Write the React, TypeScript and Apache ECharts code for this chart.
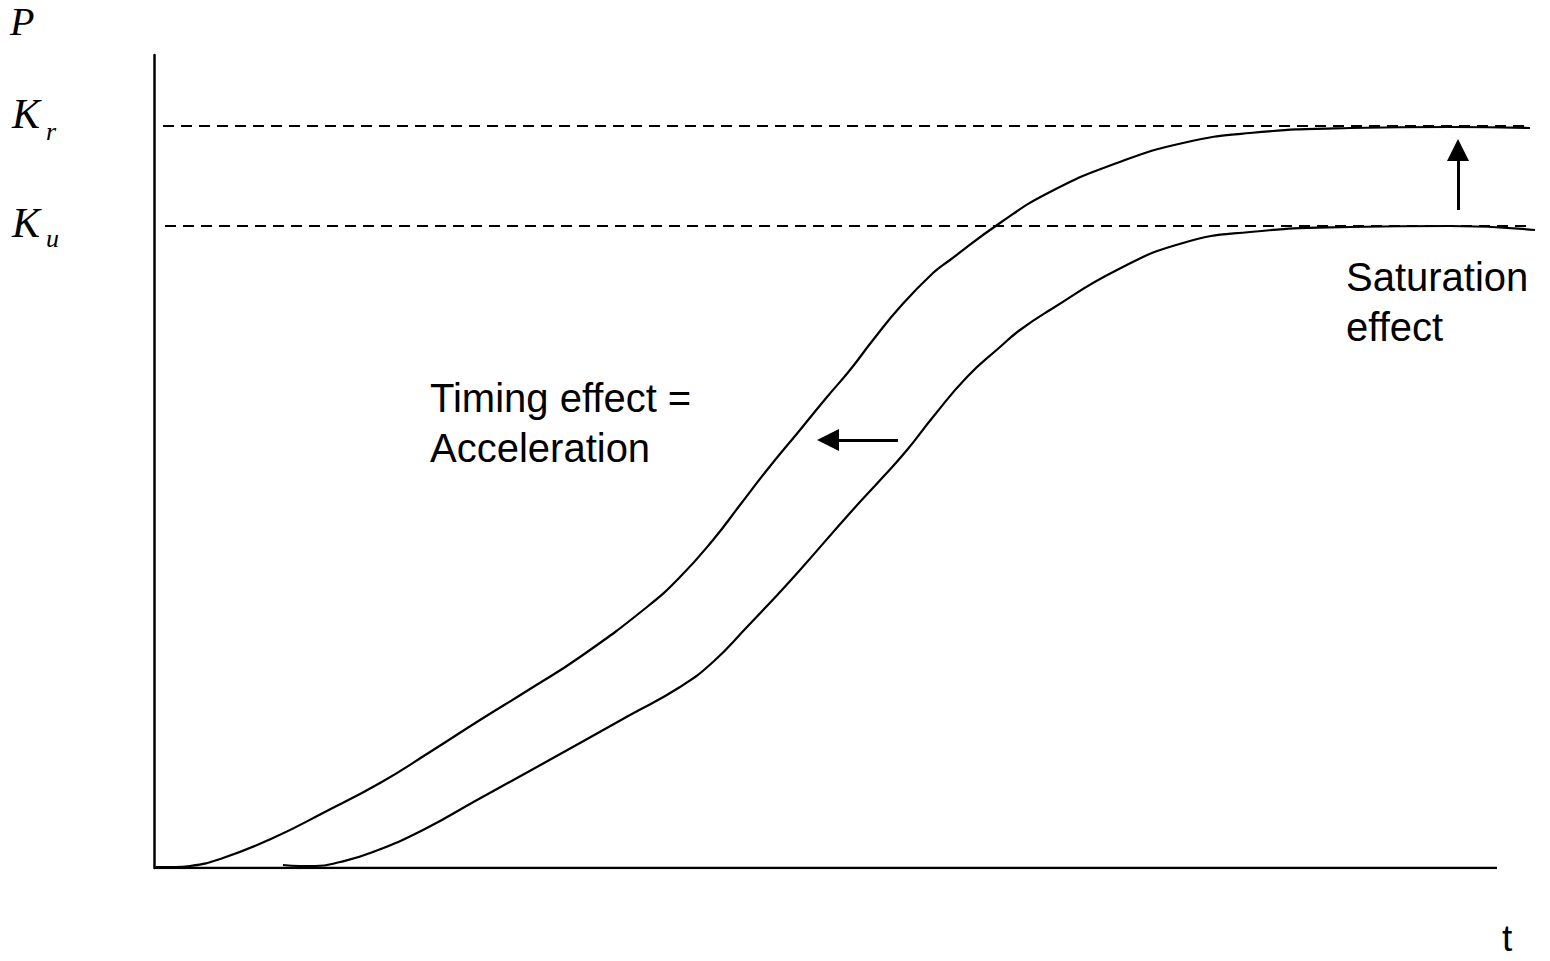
import React, { useEffect, useRef } from "react";
import * as echarts from "echarts";

// Schematic diffusion curves: t (time) vs P (penetration), in plot units
const acceleratedCurve: [number, number][] = [
  [2, 1], [21, 1], [36, 2], [69, 10], [119, 30], [169, 55], [226, 85], [276, 116],
  [326, 148], [376, 179], [426, 211], [493, 261], [526, 291], [559, 328], [586, 363],
  [613, 398], [646, 438], [673, 471], [696, 498], [719, 528], [746, 561], [779, 595],
  [796, 608], [846, 645], [896, 676], [963, 705], [1029, 725], [1096, 735],
  [1196, 740], [1296, 741], [1376, 740],
];
const baseCurve: [number, number][] = [
  [129, 3], [146, 2], [161, 2], [186, 6], [219, 16], [269, 38], [323, 68], [363, 90],
  [426, 125], [476, 153], [526, 181], [559, 206], [593, 241], [626, 276], [646, 298],
  [696, 355], [729, 391], [753, 418], [779, 451], [813, 491], [846, 521], [866, 538],
  [896, 558], [963, 598], [1029, 625], [1096, 636], [1196, 641], [1296, 642], [1381, 638],
];
const levelKr = 742;
const levelKu = 642;
const krSpan = [9, 1376];
const kuSpan = [11, 1379];
const tAxisEnd = 1343;
const xMax = 1381;
const yMax = 813;
// arrows: [fromX, fromY, toX, toY]
const timingArrow = [744, 428, 674, 428];
const saturationArrow = [1304, 658, 1304, 718];

const SANS = '"Liberation Sans", Arial, sans-serif';
const SERIF = '"Liberation Serif", "Times New Roman", serif';

export default function App() {
  const ref = useRef<HTMLDivElement>(null);
  useEffect(() => {
    if (!ref.current) return;
    const chart = echarts.init(ref.current, undefined, { renderer: "svg" });
    const black = "#000";
    const curveStyle = { color: black, width: 2.2 };
    chart.setOption({
      animation: false,
      backgroundColor: "#fff",
      grid: { left: 154, top: 55, right: 1550 - 154 - xMax, bottom: 93 },
      xAxis: {
        type: "value",
        min: 0,
        max: xMax,
        axisLine: { show: false },
        axisTick: { show: false },
        axisLabel: { show: false },
        splitLine: { show: false },
      },
      yAxis: {
        type: "value",
        min: 0,
        max: yMax,
        axisLine: { show: true, lineStyle: { color: black, width: 2.5 } },
        axisTick: { show: false },
        axisLabel: { show: false },
        splitLine: { show: false },
      },
      series: [
        {
          name: "t axis",
          type: "line",
          data: [[0, 0], [tAxisEnd, 0]],
          showSymbol: false,
          lineStyle: { color: black, width: 2.5 },
        },
        {
          name: "Kr",
          type: "line",
          data: [[krSpan[0], levelKr], [krSpan[1], levelKr]],
          showSymbol: false,
          lineStyle: { color: black, width: 2.2, type: [11, 7] },
        },
        {
          name: "Ku",
          type: "line",
          data: [[kuSpan[0], levelKu], [kuSpan[1], levelKu]],
          showSymbol: false,
          lineStyle: { color: black, width: 2.2, type: [11, 7] },
        },
        {
          name: "accelerated",
          type: "line",
          data: acceleratedCurve,
          showSymbol: false,
          smooth: 0.5,
          lineStyle: curveStyle,
        },
        {
          name: "base",
          type: "line",
          data: baseCurve,
          showSymbol: false,
          smooth: 0.5,
          lineStyle: curveStyle,
        },
        {
          name: "arrows",
          type: "lines",
          coordinateSystem: "cartesian2d",
          symbol: ["none", "triangle"],
          symbolSize: [20, 22],
          lineStyle: { color: black, width: 3, opacity: 1 },
          itemStyle: { color: black },
          data: [
            { coords: [[timingArrow[0], timingArrow[1]], [timingArrow[2], timingArrow[3]]] },
            { coords: [[saturationArrow[0], saturationArrow[1]], [saturationArrow[2], saturationArrow[3]]] },
          ],
        },
      ],
      graphic: [
        {
          type: "text",
          x: 10,
          y: 21.5,
          style: { text: "P", font: `italic 40px ${SERIF}`, fill: black, verticalAlign: "middle" },
        },
        {
          type: "text",
          x: 12,
          y: 113.8,
          style: { text: "K", font: `italic 42px ${SERIF}`, fill: black, verticalAlign: "middle" },
        },
        {
          type: "text",
          x: 46,
          y: 131.2,
          style: { text: "r", font: `italic 26px ${SERIF}`, fill: black, verticalAlign: "middle" },
        },
        {
          type: "text",
          x: 12,
          y: 222.8,
          style: { text: "K", font: `italic 42px ${SERIF}`, fill: black, verticalAlign: "middle" },
        },
        {
          type: "text",
          x: 46,
          y: 238.2,
          style: { text: "u", font: `italic 26px ${SERIF}`, fill: black, verticalAlign: "middle" },
        },
        {
          type: "text",
          x: 430,
          y: 372.7,
          style: {
            text: "Timing effect =\nAcceleration",
            font: `40px ${SANS}`,
            lineHeight: 50,
            fill: black,
            verticalAlign: "top",
          },
        },
        {
          type: "text",
          x: 1346,
          y: 251.7,
          style: {
            text: "Saturation\neffect",
            font: `40px ${SANS}`,
            lineHeight: 50,
            fill: black,
            verticalAlign: "top",
          },
        },
        {
          type: "text",
          x: 1502,
          y: 938,
          style: { text: "t", font: `37px ${SANS}`, lineHeight: 26, fill: black, verticalAlign: "middle" },
        },
      ],
    });
    return () => chart.dispose();
  }, []);
  return (
    <div
      ref={ref}
      style={{ position: "fixed", left: 0, top: 0, width: 1550, height: 961, background: "#fff" }}
    />
  );
}
